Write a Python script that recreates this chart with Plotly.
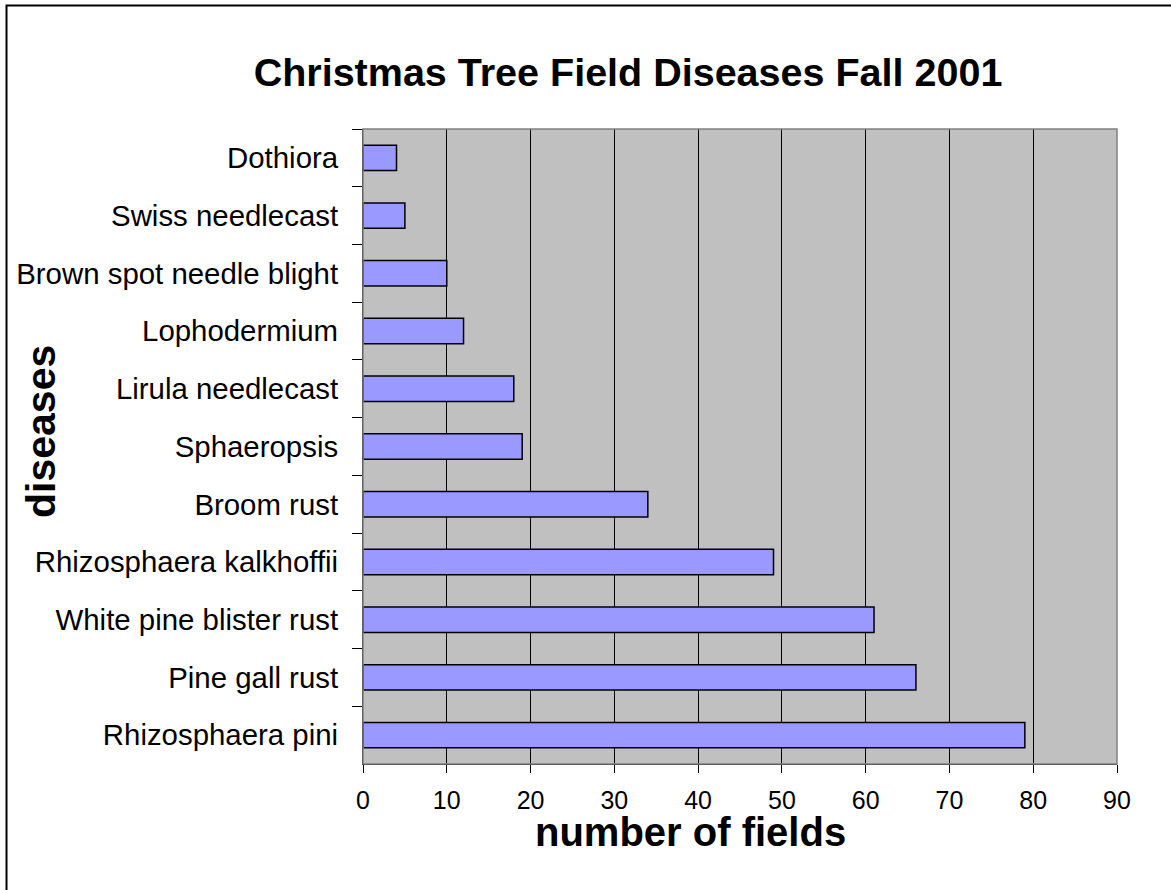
import plotly.graph_objects as go

# Diseases listed top to bottom as shown on the chart
diseases = [
    "Dothiora",
    "Swiss needlecast",
    "Brown spot needle blight",
    "Lophodermium",
    "Lirula needlecast",
    "Sphaeropsis",
    "Broom rust",
    "Rhizosphaera kalkhoffii",
    "White pine blister rust",
    "Pine gall rust",
    "Rhizosphaera pini",
]
fields = [4, 5, 10, 12, 18, 19, 34, 49, 61, 66, 79]
x_ticks = [0, 10, 20, 30, 40, 50, 60, 70, 80, 90]

FONT = "Liberation Sans, Arial, sans-serif"

fig = go.Figure(
    go.Bar(
        x=fields,
        y=diseases,
        orientation="h",
        marker=dict(color="#9999FF", line=dict(color="#000000", width=1.5)),
    )
)

W, H = 1171, 890
ml, mr, mt, mb = 363, 54, 129, 126
pw, ph = W - ml - mr, H - mt - mb

def px_x(x):
    return (x - ml) / pw

def px_y(y):
    return (H - mb - y) / ph

fig.update_layout(
    width=W,
    height=H,
    margin=dict(l=ml, r=mr, t=mt, b=mb),
    paper_bgcolor="#FFFFFF",
    plot_bgcolor="#C0C0C0",
    bargap=0.56,
    showlegend=False,
    font=dict(family=FONT, color="#000000"),
    title=dict(
        text="<b>Christmas Tree Field Diseases Fall 2001</b>",
        font=dict(family=FONT, size=39.5, color="#000000"),
        x=628 / W,
        xanchor="center",
        y=1 - 72 / H,
        yanchor="middle",
    ),
    xaxis=dict(
        range=[0, 90],
        tickvals=x_ticks,
        ticks="outside",
        ticklen=8,
        tickcolor="#000000",
        showline=True,
        linecolor="#000000",
        linewidth=1,
        showgrid=True,
        gridcolor="#000000",
        gridwidth=1,
        zeroline=False,
        tickfont=dict(family=FONT, size=25, color="#000000"),
        ticklabelstandoff=6,
        fixedrange=True,
    ),
    yaxis=dict(
        autorange="reversed",
        ticks="outside",
        tickson="boundaries",
        ticklen=10,
        tickcolor="#000000",
        showline=True,
        linecolor="#000000",
        linewidth=1,
        showgrid=False,
        tickfont=dict(family=FONT, size=29.4, color="#000000"),
        ticklabelstandoff=18,
        fixedrange=True,
    ),
    annotations=[
        dict(
            text="<b>number of fields</b>",
            xref="paper", yref="paper",
            x=px_x(690), y=px_y(832),
            xanchor="center", yanchor="middle",
            showarrow=False,
            font=dict(family=FONT, size=40, color="#000000"),
        ),
        dict(
            text="<b>diseases</b>",
            xref="paper", yref="paper",
            x=px_x(41), y=px_y(432),
            xanchor="center", yanchor="middle",
            textangle=-90,
            showarrow=False,
            font=dict(family=FONT, size=41, color="#000000"),
        ),
    ],
    shapes=[
        # grey frame on the top and right of the plotting area
        dict(
            type="rect", xref="paper", yref="paper",
            x0=0, y0=0, x1=1, y1=1,
            line=dict(color="#808080", width=1.5),
            layer="above",
        ),
        # outer chart frame
        dict(
            type="rect", xref="paper", yref="paper",
            x0=px_x(6.5), y0=px_y(905), x1=px_x(1185), y1=px_y(5.5),
            line=dict(color="#000000", width=2),
            layer="above",
        ),
    ],
)

fig.write_html("out.html")
